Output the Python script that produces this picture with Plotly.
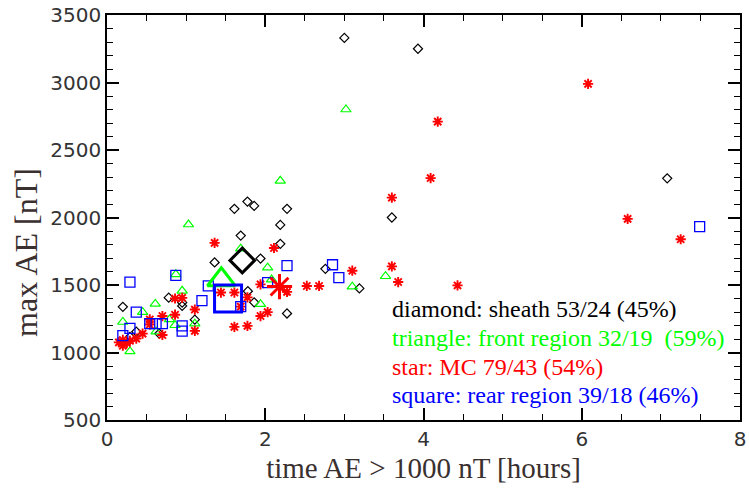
import plotly.graph_objects as go

# sheath (diamond)
sheath_x = [3.0, 3.93, 7.08, 3.6, 2.76, 3.19, 1.61, 1.775, 1.86, 2.275, 2.19, 1.69, 2.19, 1.94, 1.36,
            1.78, 1.86, 2.275, 0.2, 0.78, 0.95, 0.95, 1.11, 0.37, 0.66, 0.29]
sheath_y = [3330, 3250, 2290, 2000, 1620, 1475, 2064, 2118, 2086, 2064, 1945, 1866, 1805, 1696, 1667,
            1454, 1372, 1289, 1338, 1406, 1370, 1345, 1243, 1154, 1140, 1115]
sheath_mean = (1.71, 1682)

# front region (triangle)
front_x = [3.02, 2.19, 1.03, 1.69, 2.03, 2.08, 1.94, 0.95, 0.87, 0.61, 0.45, 0.2, 0.29, 0.79, 0.86,
           1.11, 0.62, 3.52, 3.1]
front_y = [2800, 2272, 1948, 1769, 1628, 1540, 1358, 1457, 1579, 1360, 1299, 1226, 1008, 1245, 1202,
           1214, 1154, 1565, 1488]
front_mean = (1.445, 1539)

# MC (star)
mc_x = [6.08, 4.18, 4.09, 3.6, 6.58, 7.25, 2.525, 2.68, 3.1, 3.6, 3.68, 4.43, 1.36, 2.11, 1.44, 1.61,
        1.775, 1.69, 2.275, 1.94, 2.03, 1.94, 1.61, 1.775, 0.86, 0.95, 1.11, 1.11, 0.86, 0.70, 0.54,
        0.54, 0.70, 0.45, 0.37, 0.29, 0.2, 0.2, 0.25, 0.15]
mc_y = [2990, 2710, 2292, 2147, 1990, 1839, 1493, 1493, 1606, 1638, 1522, 1497, 1812, 1774, 1444, 1444,
        1408, 1340, 1449, 1505, 1299, 1270, 1190, 1197, 1400, 1405, 1318, 1160, 1280, 1270, 1245,
        1207, 1130, 1140, 1103, 1087, 1093, 1050, 1070, 1075]
mc_mean = (2.18, 1488)

# rear region (square)
rear_x = [7.49, 2.85, 2.93, 2.275, 2.03, 1.28, 1.69, 1.2, 0.29, 0.87, 0.37, 0.29, 0.2, 0.54, 0.62,
          0.70, 0.95, 0.95]
rear_y = [1933, 1650, 1555, 1643, 1517, 1493, 1340, 1384, 1522, 1572, 1299, 1178, 1125, 1214, 1214,
          1214, 1197, 1159]
rear_mean = (1.53, 1400)

legend_lines = ["diamond: sheath 53/24 (45%)",
                "triangle: front region 32/19  (59%)",
                "star: MC 79/43 (54%)",
                "square: rear region 39/18 (46%)"]
legend_colors = ["#000000", "#00ff00", "#ff0000", "#0000ff"]

fig = go.Figure()

def add(x, y, symbol, color, size, width):
    fig.add_trace(go.Scatter(x=x, y=y, mode="markers", showlegend=False, cliponaxis=False,
                             marker=dict(symbol=symbol, size=size, color=color,
                                         line=dict(color=color, width=width))))

add(sheath_x, sheath_y, "diamond-open", "#000000", 7, 1.2)
add(front_x, front_y, "triangle-up-open", "#00ff00", 9, 1.2)
add(mc_x, mc_y, "asterisk-open", "#ff0000", 8.5, 1.9)
add(rear_x, rear_y, "square-open", "#0000ff", 10, 1.3)

add([sheath_mean[0]], [sheath_mean[1]], "diamond-open", "#000000", 19, 3)
add([front_mean[0]], [front_mean[1]], "triangle-up-open", "#00ff00", 24, 3)
add([rear_mean[0]], [rear_mean[1]], "square-open", "#0000ff", 27, 3)
add([mc_mean[0]], [mc_mean[1]], "asterisk-open", "#ff0000", 21, 3)

ys = [0.2736, 0.2034, 0.1308, 0.0605]
for txt, col, yy in zip(legend_lines, legend_colors, ys):
    fig.add_annotation(text=txt, xref="paper", yref="paper", x=0.4476, y=yy,
                       xanchor="left", yanchor="middle", showarrow=False,
                       font=dict(family="Liberation Serif", size=24, color=col))

# y axis title as rotated text
fig.add_annotation(text="max AE [nT]", xref="paper", yref="paper", x=-0.128, y=0.415,
                   xanchor="center", yanchor="middle", showarrow=False, textangle=-90,
                   font=dict(family="Liberation Serif", size=32, color="#3a3030"))

axis_common = dict(showline=True, linecolor="#000000", linewidth=1.5, mirror="ticks",
                   ticks="inside", ticklen=12, tickwidth=1.5, tickcolor="#000000",
                   showgrid=False, zeroline=False, ticklabeloverflow="allow",
                   tickfont=dict(family="DejaVu Sans", size=20, color="#333333"))

fig.update_xaxes(range=[0, 8], tickvals=[0, 2, 4, 6, 8], ticktext=["0", "2", "4", "6", "8"],
                 minor=dict(dtick=0.5, ticks="inside", ticklen=6, tickcolor="#000000", tickwidth=1.2),
                 title=dict(text="time AE > 1000 nT [hours]", standoff=8,
                            font=dict(family="Liberation Serif", size=29, color="#3a3030")),
                 **axis_common)
fig.update_yaxes(range=[500, 3500], tickvals=[500, 1000, 1500, 2000, 2500, 3000, 3500],
                 minor=dict(dtick=100, ticks="inside", ticklen=6, tickcolor="#000000", tickwidth=1.2),
                 **axis_common)

fig.update_layout(width=749, height=491, margin=dict(l=107, r=3, t=7, b=71),
                  plot_bgcolor="white", paper_bgcolor="white")

fig.write_html("out.html", post_script="document.body.style.margin='0px';",
               config={"displayModeBar": False})
